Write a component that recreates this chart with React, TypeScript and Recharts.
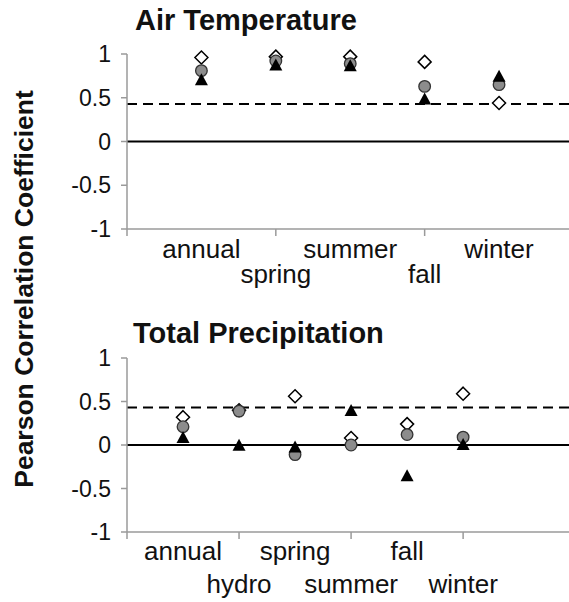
import React from 'react';
import { ScatterChart, Scatter, XAxis, YAxis, ReferenceLine } from 'recharts';

// ---------- data ----------
const airCategories = ['annual', 'spring', 'summer', 'fall', 'winter'];
const airDiamond = [0.96, 0.97, 0.97, 0.91, 0.44];
const airCircle = [0.81, 0.92, 0.89, 0.63, 0.65];
const airTriangle = [0.7, 0.87, 0.86, 0.48, 0.74];

const precipCategories = ['annual', 'hydro', 'spring', 'summer', 'fall', 'winter'];
const precipDiamond = [0.32, 0.4, 0.56, 0.08, 0.24, 0.59];
const precipCircle = [0.21, 0.39, -0.11, 0.0, 0.12, 0.09];
const precipTriangle = [0.08, -0.01, -0.03, 0.39, -0.36, 0.0];

const yTicks = [-1, -0.5, 0, 0.5, 1];
const significanceLevel = 0.43;

const airTitle = 'Air Temperature';
const precipTitle = 'Total Precipitation';
const yLabel = 'Pearson Correlation Coefficient';

// ---------- helpers ----------
const FONT = '"Liberation Sans", Arial, Helvetica, sans-serif';
const toPoints = (arr: number[]) => arr.map((v, i) => ({ x: i + 1, y: v }));

const DiamondShape = (p: any) => {
  const { cx, cy } = p;
  const s = 6.5;
  return (
    <path
      d={`M${cx},${cy - s} L${cx + s},${cy} L${cx},${cy + s} L${cx - s},${cy} Z`}
      fill="#fff"
      stroke="#000"
      strokeWidth={1.5}
    />
  );
};
const CircleShape = (p: any) => (
  <circle cx={p.cx} cy={p.cy} r={5.8} fill="#8c8c8c" stroke="#333" strokeWidth={1.3} />
);
const TriangleShape = (p: any) => {
  const { cx, cy } = p;
  return <path d={`M${cx},${cy - 7} L${cx + 6.5},${cy + 5} L${cx - 6.5},${cy + 5} Z`} fill="#000" />;
};

function CategoryTick(props: any) {
  const { x, y, payload, cats, row1, row2 } = props;
  const v = payload.value;
  return (
    <g>
      {v % 2 === 0 ? <line x1={x} x2={x} y1={y} y2={y + 7} stroke="#9a9a9a" strokeWidth={1.5} /> : null}
      {v >= 1 && v <= cats.length ? (
        <text
          x={x}
          y={y + (v % 2 === 1 ? row1 : row2)}
          textAnchor="middle"
          fontSize={26}
          fontFamily={FONT}
          fill="#111"
        >
          {cats[v - 1]}
        </text>
      ) : null}
    </g>
  );
}

type PanelProps = {
  cats: string[];
  diamond: number[];
  circle: number[];
  triangle: number[];
  height: number;
  top: number;
  xMax: number;
  xTicks: number[];
  axisH: number;
  row1: number;
  row2: number;
};

function Panel(p: PanelProps) {
  return (
    <ScatterChart width={569} height={p.height} margin={{ top: p.top, right: 0, bottom: 0, left: 0 }}>
      <XAxis
        type="number"
        dataKey="x"
        domain={[0, p.xMax]}
        allowDataOverflow
        ticks={p.xTicks}
        interval={0}
        height={p.axisH}
        tickSize={0}
        tickMargin={0}
        tickLine={false}
        stroke="#9a9a9a"
        strokeWidth={1.5}
        tick={<CategoryTick cats={p.cats} row1={p.row1} row2={p.row2} />}
      />
      <YAxis
        type="number"
        dataKey="y"
        domain={[-1, 1]}
        ticks={yTicks}
        interval={0}
        width={127}
        tickSize={6}
        tickMargin={10}
        stroke="#9a9a9a"
        strokeWidth={1.5}
        tick={{ fontSize: 23, fontFamily: FONT, fill: '#111' }}
        tickFormatter={(v: number) => String(v)}
      />
      <ReferenceLine y={0} stroke="#000" strokeWidth={2} />
      <ReferenceLine y={significanceLevel} stroke="#000" strokeWidth={2} strokeDasharray="10 6" />
      <Scatter data={toPoints(p.diamond)} shape={DiamondShape} isAnimationActive={false} />
      <Scatter data={toPoints(p.circle)} shape={CircleShape} isAnimationActive={false} />
      <Scatter data={toPoints(p.triangle)} shape={TriangleShape} isAnimationActive={false} />
    </ScatterChart>
  );
}

export default function App() {
  return (
    <div
      style={{
        position: 'absolute',
        left: 0,
        top: 0,
        width: 569,
        height: 602,
        overflow: 'hidden',
        background: '#fff',
      }}
    >
      <div style={{ position: 'absolute', left: 0, top: 0 }}>
        <Panel
          cats={airCategories}
          diamond={airDiamond}
          circle={airCircle}
          triangle={airTriangle}
          height={300}
          top={54}
          xMax={5.94}
          xTicks={[0, 1, 2, 3, 4, 5]}
          axisH={71}
          row1={29}
          row2={54}
        />
      </div>
      <div style={{ position: 'absolute', left: 0, top: 300 }}>
        <Panel
          cats={precipCategories}
          diamond={precipDiamond}
          circle={precipCircle}
          triangle={precipTriangle}
          height={302}
          top={58}
          xMax={7.89}
          xTicks={[0, 1, 2, 3, 4, 5, 6]}
          axisH={70}
          row1={28}
          row2={61}
        />
      </div>
      <svg
        width={569}
        height={602}
        style={{ position: 'absolute', left: 0, top: 0, pointerEvents: 'none' }}
      >
        <text x={135} y={30} fontSize={29} fontWeight="bold" fontFamily={FONT} fill="#111">
          {airTitle}
        </text>
        <text x={133} y={343} fontSize={29} fontWeight="bold" fontFamily={FONT} fill="#111">
          {precipTitle}
        </text>
        <text
          x={33}
          y={289}
          fontSize={26.5}
          fontWeight="bold"
          fontFamily={FONT}
          fill="#111"
          textAnchor="middle"
          transform="rotate(-90, 33, 289)"
        >
          {yLabel}
        </text>
      </svg>
    </div>
  );
}
